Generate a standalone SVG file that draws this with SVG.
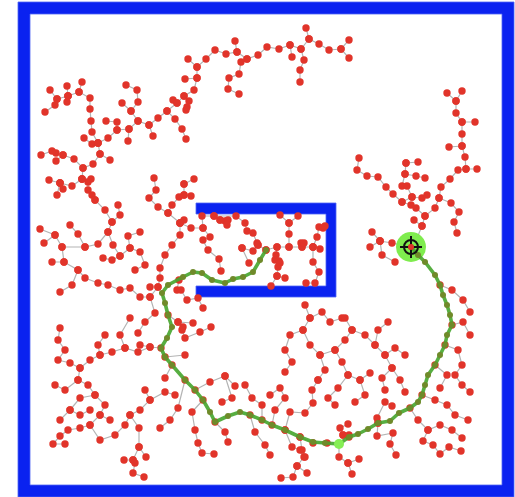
<svg xmlns="http://www.w3.org/2000/svg" xmlns:xlink="http://www.w3.org/1999/xlink" width="515" height="497" viewBox="0 0 515 497">
  <style>
    .wall { fill: #0a22f0; stroke: #4f66f4; stroke-width: 0.8; }
    .edges { fill: none; stroke: #b4b4b4; stroke-width: 1.2; }
    .nodes { fill: none; stroke: none; marker-start: url(#dot); marker-mid: url(#dot); marker-end: url(#dot); }
    .route { fill: none; stroke: #45a52c; stroke-opacity: 0.9; stroke-width: 3.6; stroke-linejoin: round; stroke-linecap: round; marker-start: url(#pdot); marker-mid: url(#pdot); marker-end: url(#pdot); }
  </style>
  <defs>
    <marker id="dot" markerUnits="userSpaceOnUse" markerWidth="9" markerHeight="9" refX="4.5" refY="4.5" viewBox="0 0 9 9" overflow="visible">
      <circle cx="4.5" cy="4.5" r="3.7" fill="#e1342a"/>
    </marker>
    <marker id="pdot" markerUnits="userSpaceOnUse" markerWidth="9" markerHeight="9" refX="4.5" refY="4.5" viewBox="0 0 9 9" overflow="visible">
      <circle cx="4.5" cy="4.5" r="3" fill="#6f8a2a"/>
    </marker>
    <!-- branches of the search tree, one polyline per chain -->
    <g id="tree">
      <!-- top arc -->
      <polyline points="306,28 309,39 319,44 329,50 341,49 349,40"/>
      <polyline points="341,49 349,58"/>
      <polyline points="309,39 301,49 290,45 279,49 267,47 258,55 247,59 237,52 226,54 215,50 206,59 197,67 188,59"/>
      <polyline points="301,49 304,60 300,70 300,82"/>
      <polyline points="290,45 292,57"/>
      <polyline points="237,52 235,41"/>
      <polyline points="247,59 241,62 239,74 229,78 228,89 239,94"/>
      <polyline points="197,67 197,78 185,79"/>
      <polyline points="197,78 194,90 184,96 177,103 173,100"/>
      <polyline points="184,96 189,101 187,107 186,110"/>
      <!-- upper left -->
      <polyline points="177,103 167,111 158,118 149,125 138,121 129,129 117,130 108,138 98,143 92,144 84,138"/>
      <polyline points="149,125 153,136"/>
      <polyline points="167,111 175,119 182,129 186,139"/>
      <polyline points="138,121 131,111 138,102 137,90 126,85"/>
      <polyline points="131,111 122,103"/>
      <polyline points="129,129 128,141"/>
      <polyline points="117,130 117,122 106,121"/>
      <polyline points="98,143 92,132 91,121 90,109 90,98 79,92 82,82"/>
      <polyline points="79,92 68,96 67,86"/>
      <polyline points="68,96 67,102"/>
      <polyline points="68,96 57,99 50,90"/>
      <polyline points="57,99 55,105 45,112"/>
      <polyline points="98,143 100,154 110,160"/>
      <polyline points="100,154 93,164 83,168 74,159 63,155 56,153 52,151 41,155"/>
      <polyline points="63,155 56,161"/>
      <polyline points="83,168 82,179 91,179"/>
      <polyline points="82,179 88,182 88,190 92,195 95,200"/>
      <polyline points="82,179 72,186 60,183 49,180"/>
      <polyline points="60,183 57,195"/>
      <polyline points="60,183 63,189"/>
      <polyline points="154,178 156,190 149,198 158,207 168,213 180,223 184,220"/>
      <polyline points="184,184 194,179"/>
      <polyline points="184,184 184,195 191,196"/>
      <polyline points="184,195 179,197 172,205 168,213"/>
      <!-- left side -->
      <polyline points="95,200 105,210 112,222 108,232 113,245 120,256 112,260 103,258"/>
      <polyline points="108,232 98,244 85,247 78,234 70,225"/>
      <polyline points="85,247 62,247 55,235 40,229"/>
      <polyline points="62,247 64,262 52,262"/>
      <polyline points="55,235 44,243"/>
      <polyline points="112,222 120,215 118,205"/>
      <polyline points="64,262 78,270 85,278 98,283 108,285 120,290 130,288 140,297 150,297"/>
      <polyline points="78,270 72,285 60,292"/>
      <polyline points="120,256 130,248 140,252 145,265 135,270"/>
      <polyline points="130,248 128,236 140,232"/>
      <!-- around the opening of the wall -->
      <polyline points="180,223 191,228 203,228 202,216 214,216 220,220 225,221 228,220"/>
      <polyline points="220,220 227,225"/>
      <polyline points="180,223 180,235 172,245 165,255 160,268 160,278 158,287 150,287"/>
      <polyline points="158,287 150,297 155,313 145,322 138,333"/>
      <polyline points="203,228 210,237 203,240 208,250 219,259 221,271"/>
      <polyline points="214,216 236,216 245,223 247,231 253,233 257,243 258,245 266,250"/>
      <polyline points="258,245 253,251 242,248"/>
      <polyline points="242,248 249,263"/>
      <polyline points="266,250 277,247 289,247 302,247 313,247 320,249"/>
      <polyline points="289,247 289,234 289,223 280,215"/>
      <polyline points="289,223 298,216"/>
      <polyline points="313,247 317,237 319,227 323,228 325,226"/>
      <polyline points="302,247 301,243 304,243"/>
      <polyline points="277,247 276,255 275,260 279,261 280,263 278,267 277,276 285,278"/>
      <polyline points="277,276 271,286"/>
      <polyline points="313,247 313,262 319,272 315,283 306,283"/>
      <polyline points="179,280 177,290 181,290 187,300 198,298 203,308"/>
      <polyline points="168,315 178,322 183,327 182,330 185,338 200,332 211,327"/>
      <polyline points="178,322 193,323"/>
      <polyline points="161,348 150,347 140,345"/>
      <polyline points="165,357 185,355"/>
      <!-- lower left -->
      <polyline points="150,347 138,352 125,348 112,352 100,355 90,360 80,368 70,363 58,360 65,350 58,340 60,328"/>
      <polyline points="125,348 120,335 130,318"/>
      <polyline points="100,355 98,345 105,335"/>
      <polyline points="80,368 78,380 65,390 55,385"/>
      <polyline points="78,380 88,385 95,395 105,405 100,415 110,420"/>
      <polyline points="95,395 80,398 70,410 60,420"/>
      <polyline points="70,410 80,415 90,410"/>
      <polyline points="100,415 90,425 80,428 68,430 60,436 53,444 65,444"/>
      <polyline points="90,425 100,440 115,435 125,425 130,415 140,410 150,400 145,390"/>
      <polyline points="150,400 165,392 175,395"/>
      <polyline points="130,415 139,428 139,447 146,457"/>
      <polyline points="139,447 133,460 124,460"/>
      <polyline points="133,460 135,463 133,473 144,477"/>
      <polyline points="172,365 165,378"/>
      <polyline points="185,380 178,408 170,420 160,428"/>
      <!-- bottom middle -->
      <polyline points="203,400 192,412 195,430 198,443 202,453 214,454"/>
      <polyline points="215,422 225,432 228,442"/>
      <polyline points="195,390 210,382 225,376 235,386"/>
      <polyline points="225,376 232,398 222,402"/>
      <polyline points="250,415 255,432 265,445 270,455"/>
      <polyline points="262,420 262,405 252,398 245,385"/>
      <polyline points="285,430 292,447 300,450 304,457 297,466 307,473"/>
      <polyline points="297,466 293,477 281,478"/>
      <polyline points="300,437 313,443 327,443"/>
      <polyline points="300,437 302,450 305,457"/>
      <polyline points="285,430 290,412 305,413 313,403 312,390 318,380"/>
      <polyline points="272,425 275,410 285,398 280,388 270,395"/>
      <polyline points="339,444 339,457 348,463 359,459"/>
      <polyline points="348,463 352,474"/>
      <polyline points="349,437 343,435 340,428 348,424"/>
      <polyline points="343,435 349,435"/>
      <polyline points="378,423 377,418 385,402 392,406"/>
      <polyline points="378,423 377,436 393,433 390,444 396,455"/>
      <!-- centre -->
      <polyline points="318,380 325,370 320,355 310,345 303,330 310,318 305,305"/>
      <polyline points="310,318 322,312 330,322 342,318"/>
      <polyline points="320,355 335,350 345,340 352,330 345,318"/>
      <polyline points="335,350 342,362 348,375 360,380 370,373"/>
      <polyline points="348,375 338,388 328,398 335,405"/>
      <polyline points="360,380 365,395 355,402"/>
      <polyline points="352,330 365,335 375,345 385,355 392,368 400,380 405,392"/>
      <polyline points="375,345 378,330 388,322"/>
      <polyline points="385,355 395,348 405,355"/>
      <polyline points="392,368 382,378 385,390"/>
      <polyline points="303,330 290,335 285,350 292,362 285,372"/>
      <!-- right upper tree -->
      <polyline points="447,93 456,101 456,113 462,122 475,122"/>
      <polyline points="462,91 456,101"/>
      <polyline points="462,122 462,134 462,146 449,147"/>
      <polyline points="462,146 465,157 466,169 477,169"/>
      <polyline points="466,169 458,170 450,179 441,187 439,198 435,208 425,216 422,226 417,238 411,247"/>
      <polyline points="439,198 451,203 459,212 454,222 457,233"/>
      <polyline points="359,158 357,170 367,176 378,177 386,187 393,194 402,202 411,205 416,208 425,216"/>
      <polyline points="402,202 412,197 422,198 427,195"/>
      <polyline points="406,163 418,162"/>
      <polyline points="406,163 405,174 416,176 425,178"/>
      <polyline points="405,174 402,186 407,186 412,197"/>
      <polyline points="414,220 422,226"/>
      <polyline points="411,247 392,243 380,241 372,232"/>
      <polyline points="380,241 370,247"/>
      <polyline points="380,241 382,255 395,262"/>
      <!-- right side below the goal -->
      <polyline points="440,285 452,290 463,300 470,312"/>
      <polyline points="452,325 463,322 470,335"/>
      <polyline points="445,345 458,350 462,365 455,375 462,385 470,392"/>
      <polyline points="435,365 447,375 440,388"/>
      <polyline points="422,395 435,400 447,405 455,415 468,420"/>
      <polyline points="410,408 418,420 428,430 440,425 452,430 462,438"/>
      <polyline points="428,430 423,441 433,445 440,454 449,447 461,451"/>
    </g>
  </defs>

  <!-- outer boundary -->
  <path class="wall" fill-rule="evenodd" d="M18,2 H514 V497 H18 Z M30,14 V485 H502 V14 Z"/>

  <!-- U-shaped obstacle, open to the left -->
  <polygon class="wall" points="196,203 336,203 336,297 196,297 196,286 326,286 326,214 196,214"/>

  <!-- search tree: edges first, then the vertices on top -->
  <g id="tree-edges">
    <use xlink:href="#tree" class="edges"/>
  </g>
  <g id="tree-vertices">
    <use xlink:href="#tree" class="nodes"/>
  </g>

  <!-- goal region -->
  <g id="goal">
    <circle cx="411" cy="247" r="15" fill="#7fec4e"/>
  </g>

  <!-- solution path -->
  <g id="path">
    <polyline class="route" points="266,250 260,260 253,272 243,277 233,279 225,283 212,280 202,273 193,272 183,277 168,285 162,293 165,303 168,315 172,327 167,338 161,348 165,357 172,365 185,380 195,390 203,400 210,412 215,422 228,416 240,412 250,415 262,420 272,425 285,430 300,437 313,442 325,443 339,444 349,437 358,434 368,429 378,423 390,421 399,413 410,408 418,402 422,395 425,385 428,375 435,365 440,355 445,345 447,335 452,325 450,315 447,305 443,295 440,285 435,275 425,262 418,255 411,247"/>
    <circle cx="339" cy="444" r="5" fill="#86ee55"/>
  </g>

  <!-- goal marker -->
  <g id="target" stroke="#111" stroke-width="2" fill="none">
    <circle cx="411" cy="247" r="7"/>
    <line x1="400" y1="247" x2="422" y2="247"/>
    <line x1="411" y1="236" x2="411" y2="258"/>
  </g>
  <circle cx="411" cy="247" r="3" fill="#e1342a"/>
</svg>
